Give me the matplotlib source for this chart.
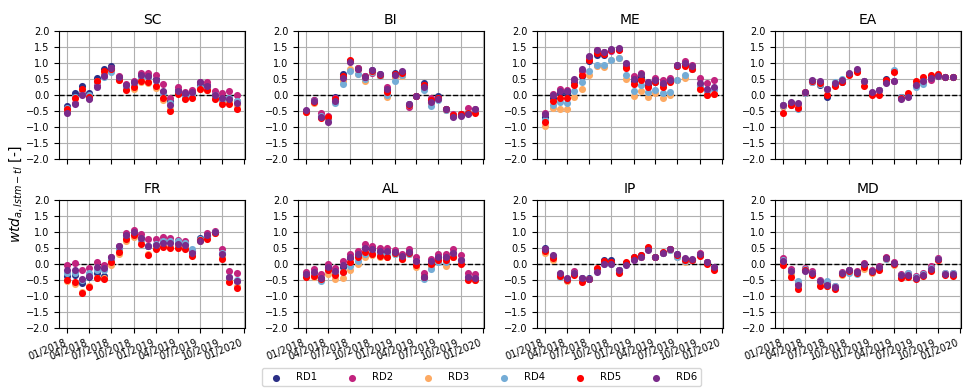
import numpy as np
import pandas as pd
import matplotlib
matplotlib.use("Agg")
import matplotlib.pyplot as plt
import matplotlib.dates as mdates

# ------------------- DATA -------------------
MONTHS = pd.date_range("2018-01-01", "2019-12-01", freq="MS")
RUNS = ["RD1", "RD2", "RD3", "RD4", "RD5", "RD6"]
COLORS = ["#2b2f86", "#c2237e", "#fdaa63", "#74acd6", "#ff0000", "#7a2a8a"]
REGIONS = ["SC", "BI", "ME", "EA", "FR", "AL", "IP", "MD"]

# one row per run (RD1..RD6), one column per month
SC = [
    [-0.35, 0.05, 0.28, 0.05, 0.52, 0.82, 0.90, 0.55, 0.30, 0.40, 0.60, 0.60, 0.50, 0.10, -0.20, 0.15, 0.00, 0.05, 0.30, 0.30, 0.00, -0.10, -0.10, -0.20],
    [-0.50, -0.25, 0.05, -0.10, 0.30, 0.65, 0.85, 0.60, 0.35, 0.45, 0.70, 0.70, 0.62, 0.35, -0.10, 0.25, 0.10, 0.15, 0.42, 0.42, 0.12, 0.05, 0.12, 0.00],
    [-0.45, -0.10, 0.15, -0.05, 0.45, 0.72, 0.80, 0.48, 0.20, 0.20, 0.42, 0.38, 0.22, -0.15, -0.45, 0.05, -0.10, -0.05, 0.20, 0.15, -0.10, -0.20, -0.20, -0.30],
    [-0.40, -0.05, 0.15, 0.00, 0.40, 0.55, 0.72, 0.50, 0.25, 0.30, 0.55, 0.55, 0.45, 0.05, -0.25, 0.10, -0.05, 0.00, 0.25, 0.25, 0.00, -0.15, -0.10, -0.20],
    [-0.45, -0.10, 0.18, -0.05, 0.45, 0.75, 0.82, 0.48, 0.15, 0.25, 0.45, 0.40, 0.28, -0.10, -0.50, 0.03, -0.12, -0.08, 0.20, 0.15, -0.12, -0.28, -0.27, -0.45],
    [-0.55, -0.28, 0.00, -0.13, 0.25, 0.60, 0.85, 0.55, 0.30, 0.40, 0.62, 0.58, 0.48, 0.12, -0.30, 0.12, 0.05, 0.10, 0.40, 0.28, 0.00, -0.10, -0.12, -0.25],
]
BI = [
    [-0.50, -0.15, -0.65, -0.75, -0.05, 0.65, 1.05, 0.85, 0.58, 0.78, 0.65, 0.15, 0.70, 0.72, -0.28, -0.03, 0.37, -0.15, -0.03, -0.45, -0.65, -0.60, -0.55, -0.48],
    [-0.50, -0.15, -0.55, -0.65, -0.10, 0.55, 1.05, 0.85, 0.60, 0.68, 0.62, 0.25, 0.60, 0.70, -0.38, -0.03, 0.30, -0.10, -0.10, -0.42, -0.60, -0.58, -0.40, -0.43],
    [-0.52, -0.25, -0.70, -0.75, -0.20, 0.45, 0.80, 0.65, 0.45, 0.72, 0.58, -0.05, 0.55, 0.60, -0.30, -0.03, 0.20, -0.25, -0.12, -0.48, -0.65, -0.63, -0.55, -0.50],
    [-0.50, -0.20, -0.65, -0.75, -0.25, 0.35, 0.75, 0.65, 0.50, 0.72, 0.60, 0.00, 0.45, 0.62, -0.30, -0.03, 0.15, -0.33, -0.15, -0.48, -0.65, -0.62, -0.55, -0.50],
    [-0.52, -0.22, -0.72, -0.70, -0.12, 0.60, 1.08, 0.82, 0.55, 0.75, 0.63, 0.08, 0.65, 0.70, -0.30, -0.03, 0.32, -0.15, -0.08, -0.45, -0.62, -0.60, -0.55, -0.55],
    [-0.48, -0.18, -0.68, -0.83, -0.18, 0.52, 1.02, 0.82, 0.57, 0.77, 0.65, 0.20, 0.62, 0.75, -0.28, -0.03, 0.25, -0.22, -0.12, -0.45, -0.70, -0.65, -0.60, -0.45],
]
ME = [
    [-0.70, -0.10, 0.05, 0.05, 0.40, 0.60, 1.05, 1.25, 1.25, 1.40, 1.45, 0.90, 0.45, 0.55, 0.32, 0.42, 0.35, 0.45, 0.92, 0.95, 0.85, 0.30, 0.15, 0.20],
    [-0.55, 0.03, 0.20, 0.15, 0.48, 0.75, 1.20, 1.40, 1.35, 1.38, 1.45, 0.95, 0.58, 0.70, 0.40, 0.52, 0.47, 0.52, 0.95, 1.05, 0.93, 0.52, 0.37, 0.47],
    [-0.98, -0.40, -0.42, -0.45, -0.05, 0.20, 0.62, 0.90, 0.87, 1.10, 1.15, 0.50, -0.03, 0.12, -0.05, 0.05, -0.08, 0.00, 0.48, 0.52, 0.80, 0.20, 0.00, 0.02],
    [-0.78, -0.30, -0.22, -0.25, 0.12, 0.40, 0.75, 0.95, 0.93, 1.10, 1.17, 0.63, 0.13, 0.30, 0.08, 0.15, 0.05, 0.08, 0.48, 0.62, 0.82, 0.30, 0.12, 0.20],
    [-0.85, -0.20, -0.10, -0.10, 0.30, 0.62, 1.10, 1.30, 1.28, 1.40, 1.42, 0.85, 0.35, 0.48, 0.25, 0.40, 0.25, 0.42, 0.92, 0.90, 0.80, 0.18, 0.00, 0.02],
    [-0.60, 0.00, 0.12, 0.12, 0.50, 0.80, 1.22, 1.40, 1.35, 1.45, 1.48, 1.00, 0.50, 0.65, 0.42, 0.48, 0.38, 0.48, 0.95, 1.00, 0.90, 0.38, 0.18, 0.25],
]
EA = [
    [-0.33, -0.25, -0.35, 0.05, 0.45, 0.32, -0.05, 0.30, 0.40, 0.65, 0.75, 0.45, 0.05, 0.15, 0.50, 0.75, -0.05, -0.03, 0.30, 0.42, 0.55, 0.60, 0.57, 0.56],
    [-0.32, -0.30, -0.35, 0.05, 0.42, 0.42, 0.18, 0.35, 0.45, 0.65, 0.75, 0.45, 0.05, 0.15, 0.42, 0.45, -0.10, -0.03, 0.30, 0.42, 0.48, 0.60, 0.57, 0.55],
    [-0.35, -0.25, -0.38, 0.05, 0.45, 0.35, 0.15, 0.35, 0.45, 0.65, 0.75, 0.45, 0.05, 0.15, 0.45, 0.75, -0.08, 0.00, 0.30, 0.40, 0.55, 0.60, 0.57, 0.56],
    [-0.30, -0.25, -0.42, 0.05, 0.40, 0.35, 0.20, 0.40, 0.50, 0.65, 0.78, 0.45, 0.05, 0.15, 0.45, 0.77, -0.05, 0.00, 0.25, 0.35, 0.55, 0.60, 0.57, 0.56],
    [-0.55, -0.32, -0.40, 0.08, 0.45, 0.38, 0.00, 0.28, 0.42, 0.63, 0.72, 0.27, 0.00, 0.00, 0.47, 0.72, -0.10, 0.07, 0.45, 0.55, 0.62, 0.65, 0.57, 0.55],
    [-0.32, -0.22, -0.25, 0.08, 0.48, 0.45, 0.20, 0.38, 0.48, 0.68, 0.80, 0.45, 0.08, 0.15, 0.38, 0.45, -0.12, -0.05, 0.32, 0.45, 0.52, 0.58, 0.57, 0.57],
]
FR = [
    [-0.38, -0.35, -0.60, -0.42, -0.28, -0.38, 0.15, 0.50, 0.90, 1.00, 0.80, 0.55, 0.60, 0.70, 0.70, 0.65, 0.62, 0.40, 0.80, 0.88, 1.00, 0.30, -0.45, -0.55],
    [-0.05, 0.02, -0.20, -0.12, 0.05, -0.05, 0.22, 0.55, 0.95, 1.05, 0.92, 0.78, 0.78, 0.85, 0.80, 0.75, 0.70, 0.40, 0.75, 0.95, 1.03, 0.45, -0.22, -0.30],
    [-0.55, -0.62, -0.88, -0.70, -0.45, -0.45, -0.05, 0.30, 0.70, 0.85, 0.70, 0.30, 0.50, 0.55, 0.52, 0.52, 0.50, 0.28, 0.72, 0.80, 0.95, 0.20, -0.55, -0.70],
    [-0.30, -0.30, -0.50, -0.30, -0.20, -0.20, 0.15, 0.50, 0.85, 0.95, 0.75, 0.55, 0.62, 0.72, 0.72, 0.70, 0.65, 0.45, 0.78, 0.88, 1.00, 0.35, -0.40, -0.50],
    [-0.50, -0.58, -0.90, -0.72, -0.45, -0.47, 0.05, 0.38, 0.78, 0.90, 0.62, 0.27, 0.45, 0.52, 0.50, 0.50, 0.47, 0.23, 0.75, 0.78, 0.96, 0.15, -0.58, -0.75],
    [-0.18, -0.20, -0.48, -0.38, -0.10, -0.13, 0.22, 0.55, 0.90, 1.00, 0.80, 0.55, 0.58, 0.65, 0.65, 0.62, 0.60, 0.35, 0.70, 0.90, 1.00, 0.32, -0.40, -0.55],
]
AL = [
    [-0.35, -0.30, -0.45, -0.10, -0.25, -0.10, 0.18, 0.28, 0.50, 0.45, 0.38, 0.38, 0.38, 0.25, 0.38, 0.10, -0.40, 0.00, 0.20, 0.20, 0.35, 0.12, -0.42, -0.45],
    [-0.25, -0.15, -0.32, 0.00, -0.12, 0.10, 0.32, 0.40, 0.62, 0.55, 0.50, 0.48, 0.42, 0.32, 0.45, 0.20, -0.30, 0.15, 0.30, 0.32, 0.45, 0.28, -0.28, -0.32],
    [-0.38, -0.40, -0.50, -0.32, -0.48, -0.45, -0.20, 0.00, 0.22, 0.28, 0.20, 0.20, 0.30, 0.15, 0.30, -0.10, -0.45, -0.10, 0.05, -0.08, 0.22, 0.02, -0.48, -0.50],
    [-0.35, -0.32, -0.55, -0.20, -0.30, -0.25, -0.08, 0.10, 0.30, 0.35, 0.30, 0.30, 0.32, 0.22, 0.30, 0.00, -0.48, -0.15, 0.05, 0.05, 0.30, 0.10, -0.45, -0.48],
    [-0.40, -0.38, -0.48, -0.20, -0.35, -0.25, 0.05, 0.20, 0.38, 0.30, 0.25, 0.22, 0.35, 0.15, 0.35, -0.05, -0.42, -0.02, 0.12, 0.12, 0.22, 0.00, -0.50, -0.52],
    [-0.32, -0.25, -0.45, -0.10, -0.22, -0.05, 0.20, 0.30, 0.50, 0.45, 0.40, 0.40, 0.38, 0.25, 0.38, 0.10, -0.42, 0.10, 0.20, 0.22, 0.35, 0.12, -0.40, -0.45],
]
IP = [
    [0.48, 0.25, -0.33, -0.48, -0.25, -0.45, -0.45, -0.15, 0.12, 0.13, -0.20, 0.03, 0.22, 0.27, 0.48, 0.20, 0.35, 0.45, 0.30, 0.15, 0.13, 0.32, 0.06, -0.10],
    [0.45, 0.22, -0.35, -0.48, -0.22, -0.48, -0.48, -0.20, 0.05, 0.05, -0.20, 0.02, 0.15, 0.22, 0.45, 0.20, 0.35, 0.45, 0.28, 0.15, 0.13, 0.33, 0.05, -0.12],
    [0.35, 0.13, -0.42, -0.55, -0.33, -0.52, -0.48, -0.20, 0.02, 0.02, -0.25, 0.00, 0.15, 0.22, 0.45, 0.20, 0.35, 0.42, 0.22, 0.05, 0.12, 0.28, 0.02, -0.15],
    [0.42, 0.20, -0.40, -0.50, -0.30, -0.50, -0.47, -0.20, -0.02, 0.00, -0.20, 0.00, 0.15, 0.25, 0.45, 0.20, 0.35, 0.42, 0.20, 0.08, 0.13, 0.28, 0.03, -0.15],
    [0.40, 0.18, -0.38, -0.52, -0.35, -0.58, -0.48, -0.12, 0.08, 0.07, -0.28, 0.05, 0.20, 0.28, 0.53, 0.20, 0.38, 0.45, 0.28, 0.12, 0.12, 0.25, -0.02, -0.20],
    [0.47, 0.28, -0.30, -0.45, -0.28, -0.45, -0.48, -0.25, 0.00, 0.00, -0.20, -0.03, 0.12, 0.20, 0.42, 0.20, 0.33, 0.45, 0.30, 0.18, 0.14, 0.32, 0.07, -0.10],
]
MD = [
    [0.12, -0.20, -0.62, -0.18, -0.28, -0.58, -0.62, -0.72, -0.30, -0.20, -0.25, -0.05, -0.22, -0.10, 0.18, 0.02, -0.35, -0.35, -0.42, -0.32, -0.12, 0.15, -0.32, -0.32],
    [0.18, -0.15, -0.58, -0.13, -0.22, -0.50, -0.58, -0.68, -0.25, -0.18, -0.22, 0.02, -0.20, -0.08, 0.22, 0.05, -0.32, -0.30, -0.38, -0.28, -0.08, 0.17, -0.30, -0.28],
    [0.00, -0.32, -0.72, -0.20, -0.32, -0.62, -0.68, -0.75, -0.35, -0.22, -0.30, -0.15, -0.28, -0.15, 0.15, -0.05, -0.40, -0.38, -0.45, -0.35, -0.18, 0.13, -0.33, -0.35],
    [0.12, -0.22, -0.55, -0.15, -0.28, -0.55, -0.55, -0.70, -0.28, -0.28, -0.32, -0.08, -0.25, -0.12, 0.15, 0.00, -0.35, -0.28, -0.42, -0.32, -0.12, 0.15, -0.30, -0.30],
    [-0.03, -0.40, -0.78, -0.20, -0.35, -0.68, -0.70, -0.80, -0.32, -0.22, -0.28, -0.10, -0.25, -0.18, 0.18, -0.02, -0.43, -0.40, -0.48, -0.38, -0.22, 0.12, -0.35, -0.38],
    [0.10, -0.22, -0.65, -0.22, -0.28, -0.55, -0.65, -0.72, -0.30, -0.18, -0.25, 0.00, -0.22, -0.10, 0.18, 0.03, -0.35, -0.35, -0.45, -0.35, -0.15, 0.15, -0.32, -0.32],
]
VALUES = {"SC": SC, "BI": BI, "ME": ME, "EA": EA, "FR": FR, "AL": AL, "IP": IP, "MD": MD}
# ----------------------------------------------

fig = plt.figure(figsize=(9.63, 3.88), dpi=100)

lefts = [0.0613, 0.3094, 0.5576, 0.8048]
bottoms = [0.590, 0.155]
w, h = 0.1931, 0.330

for i, region in enumerate(REGIONS):
    ax = fig.add_axes([lefts[i % 4], bottoms[i // 4], w, h])
    data = VALUES[region]
    for run, color, vals in zip(RUNS, COLORS, data):
        ax.scatter(MONTHS, vals, s=26, color=color, label=run, zorder=3, linewidths=0)
    ax.axhline(0, color="k", linestyle="--", linewidth=1, zorder=2)
    ax.set_ylim(-2, 2)
    ax.set_yticks(np.arange(-2, 2.01, 0.5))
    ax.grid(True, color="#b0b0b0", linewidth=0.8, zorder=0)
    ax.set_axisbelow(True)
    ax.set_title(region, fontsize=10, pad=5)
    ax.xaxis.set_major_locator(mdates.MonthLocator(bymonth=[1, 4, 7, 10]))
    ax.xaxis.set_major_formatter(mdates.DateFormatter("%m/%Y"))
    ax.tick_params(labelsize=7)
    if i // 4 == 0:
        ax.tick_params(axis="x", labelbottom=False)
    else:
        for lab in ax.get_xticklabels():
            lab.set_rotation(22)
            lab.set_ha("right")

fig.text(0.017, 0.5, r"$wtd_{a,lstm-tl}$ [-]", rotation=90, va="center", ha="center", fontsize=10)

handles, labels = fig.axes[0].get_legend_handles_labels()
fig.legend(handles, labels, loc="upper center", bbox_to_anchor=(0.5, 0.064), ncol=6,
           fontsize=7.3, frameon=True, fancybox=True, columnspacing=2.4, handletextpad=1.0)

fig.savefig("out.png", dpi=100)
